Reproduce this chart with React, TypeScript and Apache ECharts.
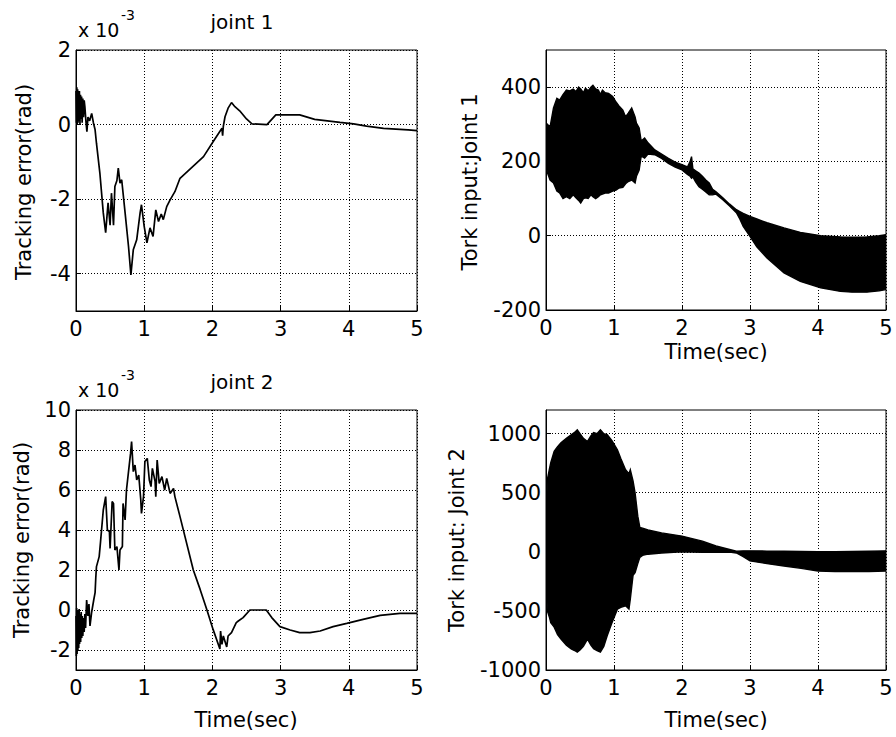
import React, { useEffect, useRef } from 'react';
import * as echarts from 'echarts';

// ---------- tick labels ----------
const timeTicks = [0, 1, 2, 3, 4, 5];
const err1Ticks = [-4, -2, 0, 2];
const tq1Ticks = [-200, 0, 200, 400];
const err2Ticks = [-2, 0, 2, 4, 6, 8, 10];
const tq2Ticks = [-1000, -500, 0, 500, 1000];

// ---------- joint 1 tracking error (x 1e-3 rad) ----------
const err1T = [0, 0.006, 0.012, 0.018, 0.024, 0.03, 0.036, 0.042, 0.05, 0.058, 0.066, 0.074, 0.082, 0.09, 0.1, 0.11, 0.12, 0.13, 0.145, 0.16, 0.175, 0.2, 0.23, 0.255, 0.28, 0.3, 0.35, 0.4, 0.435, 0.47, 0.5, 0.52, 0.55, 0.57, 0.6, 0.62, 0.645, 0.67, 0.72, 0.77, 0.805, 0.84, 0.89, 0.94, 0.96, 1.0, 1.04, 1.085, 1.13, 1.17, 1.21, 1.25, 1.28, 1.33, 1.38, 1.45, 1.525, 1.87, 2.01, 2.14, 2.15, 2.16, 2.185, 2.23, 2.28, 2.33, 2.4, 2.5, 2.58, 2.8, 2.93, 3.28, 3.5, 3.87, 4.07, 4.26, 4.51, 4.87, 5.0];
const err1V = [0.9, 0.05, 1.0, 0.0, 0.95, 0.05, 0.9, 0.1, 0.9, 0.0, 0.8, 0.15, 0.75, 0.05, 0.7, 0.2, 0.65, 0.48, 0.1, -0.19, 0.2, 0.1, 0.3, 0.05, -0.14, -0.5, -1.3, -2.37, -2.9, -2.1, -2.7, -1.84, -2.7, -1.66, -1.5, -1.17, -1.57, -1.48, -2.37, -3.27, -4.03, -3.36, -3.09, -2.37, -2.15, -2.73, -3.17, -2.77, -3.0, -2.29, -2.6, -2.4, -2.55, -2.2, -2.02, -1.8, -1.44, -0.86, -0.46, -0.1, -0.3, -0.05, 0.21, 0.44, 0.59, 0.48, 0.37, 0.15, 0.02, 0.0, 0.26, 0.26, 0.14, 0.06, 0.02, -0.04, -0.1, -0.14, -0.16];

// ---------- joint 2 tracking error (x 1e-3 rad) ----------
const err2T = [0, 0.005, 0.01, 0.016, 0.022, 0.028, 0.034, 0.04, 0.046, 0.052, 0.06, 0.068, 0.076, 0.084, 0.092, 0.1, 0.11, 0.12, 0.13, 0.14, 0.156, 0.175, 0.19, 0.205, 0.23, 0.26, 0.28, 0.29, 0.3, 0.34, 0.36, 0.4, 0.435, 0.46, 0.49, 0.5, 0.53, 0.55, 0.57, 0.6, 0.63, 0.645, 0.68, 0.69, 0.72, 0.74, 0.77, 0.8, 0.815, 0.84, 0.865, 0.89, 0.92, 0.95, 0.96, 0.99, 1.01, 1.045, 1.075, 1.1, 1.12, 1.16, 1.17, 1.19, 1.22, 1.26, 1.3, 1.33, 1.38, 1.43, 1.45, 1.525, 1.72, 1.82, 1.92, 2.01, 2.11, 2.12, 2.14, 2.16, 2.21, 2.23, 2.28, 2.35, 2.38, 2.45, 2.55, 2.79, 2.87, 2.99, 3.14, 3.28, 3.43, 3.58, 3.77, 3.97, 4.21, 4.46, 4.75, 5.0];
const err2V = [-0.3, -2.3, 0.1, -2.2, 0.0, -2.0, -0.1, -1.9, 0.05, -1.7, -0.2, -1.6, -0.1, -1.4, -0.3, -1.3, -0.4, -1.1, -0.2, -0.9, 0.5, -0.3, 0.3, -0.8, -0.1, 0.5, 0.87, 1.6, 2.17, 2.67, 3.42, 5.0, 5.67, 4.0, 3.92, 3.08, 5.42, 5.33, 3.0, 3.17, 2.0, 3.0, 3.17, 5.33, 4.5, 6.0, 6.92, 7.83, 8.42, 6.92, 7.25, 6.5, 6.75, 5.5, 4.83, 5.67, 7.42, 7.58, 6.5, 6.17, 7.08, 6.42, 5.67, 7.5, 6.33, 6.67, 6.0, 6.58, 5.83, 6.08, 5.67, 4.67, 2.0, 1.03, 0.0, -0.97, -1.95, -1.05, -1.72, -1.3, -1.85, -1.3, -1.13, -0.63, -0.55, -0.38, 0.0, 0.0, -0.38, -0.83, -1.0, -1.13, -1.13, -1.05, -0.83, -0.67, -0.47, -0.27, -0.17, -0.17];

// ---------- joint 1 torque input: envelope of the oscillation ----------
const tq1T = [0, 0.02, 0.06, 0.11, 0.16, 0.2, 0.25, 0.3, 0.35, 0.4, 0.44, 0.48, 0.51, 0.55, 0.58, 0.62, 0.66, 0.69, 0.73, 0.77, 0.8, 0.83, 0.87, 0.92, 0.98, 1.03, 1.07, 1.13, 1.17, 1.21, 1.26, 1.31, 1.33, 1.37, 1.4, 1.45, 1.5, 1.6, 1.7, 1.8, 1.9, 2.0, 2.08, 2.12, 2.14, 2.16, 2.2, 2.25, 2.3, 2.35, 2.4, 2.45, 2.5, 2.6, 2.7, 2.8, 2.85, 2.9, 3.0, 3.1, 3.25, 3.5, 3.74, 4.04, 4.33, 4.5, 4.72, 4.9, 5.0];
const tq1Lo = [200, 170, 150, 142, 120, 115, 100, 105, 100, 110, 102, 95, 88, 100, 102, 100, 110, 105, 100, 105, 110, 112, 115, 115, 120, 123, 128, 130, 140, 146, 150, 142, 160, 177, 215, 209, 220, 218, 208, 195, 185, 177, 165, 160, 155, 158, 145, 132, 125, 118, 110, 110, 112, 97, 80, 62, 45, 25, -2, -30, -60, -100, -123, -140, -150, -152, -152, -148, -145];
const tq1Hi = [270, 300, 293, 344, 370, 365, 380, 392, 390, 395, 388, 400, 395, 385, 397, 390, 400, 405, 395, 392, 380, 392, 385, 383, 375, 360, 350, 338, 320, 330, 344, 320, 303, 290, 255, 263, 250, 231, 220, 208, 198, 191, 185, 200, 213, 180, 175, 169, 160, 150, 142, 125, 118, 102, 85, 70, 65, 60, 52, 45, 35, 21, 9, 0, -3, -4, -3, 0, 3];

// ---------- joint 2 torque input: envelope of the oscillation ----------
const tq2T = [0, 0.01, 0.02, 0.05, 0.07, 0.12, 0.17, 0.22, 0.3, 0.37, 0.42, 0.46, 0.5, 0.55, 0.61, 0.66, 0.7, 0.75, 0.8, 0.85, 0.9, 0.97, 1.05, 1.1, 1.17, 1.22, 1.24, 1.28, 1.31, 1.35, 1.38, 1.42, 1.5, 1.7, 2.0, 2.3, 2.5, 2.7, 2.8, 2.9, 3.0, 3.25, 3.5, 3.75, 4.0, 4.25, 4.5, 4.75, 5.0];
const tq2Lo = [-50, -350, -500, -553, -600, -637, -700, -738, -790, -822, -835, -848, -830, -800, -738, -790, -820, -835, -848, -800, -710, -600, -485, -470, -457, -485, -400, -200, -176, -100, -47, -30, -20, -10, 0, -5, -5, -3, -10, -40, -77, -100, -120, -140, -162, -166, -168, -166, -162];
const tq2Hi = [250, 400, 611, 700, 754, 850, 890, 923, 960, 991, 1010, 1033, 1000, 960, 934, 980, 1010, 1000, 1033, 1000, 991, 940, 864, 790, 695, 660, 695, 600, 500, 302, 206, 200, 185, 160, 133, 90, 49, 20, 5, 8, 8, 6, 5, 3, 0, 2, 3, 5, 8];

const FONT = 'DejaVu Sans';
const BLACK = '#000';

const grids = [
  { left: 76, top: 50, width: 341, height: 261 },
  { left: 546, top: 50, width: 340, height: 260 },
  { left: 76, top: 410, width: 341, height: 260 },
  { left: 546, top: 410, width: 340, height: 260 },
];

const plain = (v: number) => String(v);

function xAxis(gridIndex: number) {
  return {
    type: 'value', gridIndex, min: 0, max: 5,
    axisLine: { show: true, onZero: false, lineStyle: { color: BLACK, width: 1 } },
    axisTick: { show: true, inside: true, length: 5, customValues: timeTicks, lineStyle: { color: BLACK } },
    axisLabel: { customValues: timeTicks, formatter: plain, color: BLACK, fontSize: 21, fontFamily: FONT, margin: 7 },
    splitLine: { show: true, lineStyle: { color: BLACK, width: 1, type: [1, 2] } },
  };
}

function yAxis(gridIndex: number, min: number, max: number, ticks: number[]) {
  return {
    type: 'value', gridIndex, min, max,
    axisLine: { show: true, onZero: false, lineStyle: { color: BLACK, width: 1 } },
    axisTick: { show: true, inside: true, length: 5, customValues: ticks, lineStyle: { color: BLACK } },
    axisLabel: { customValues: ticks, formatter: plain, color: BLACK, fontSize: 21, fontFamily: FONT, margin: 5 },
    splitLine: { show: true, lineStyle: { color: BLACK, width: 1, type: [1, 2] } },
  };
}

function lineSeries(idx: number, t: number[], v: number[]) {
  return {
    type: 'line', xAxisIndex: idx, yAxisIndex: idx,
    data: t.map((x, i) => [x, v[i]]),
    symbol: 'none', showSymbol: false, clip: true,
    lineStyle: { color: BLACK, width: 1.7 },
    z: 5,
  };
}

function bandSeries(idx: number, t: number[], lo: number[], hi: number[]) {
  return {
    type: 'custom', xAxisIndex: idx, yAxisIndex: idx, clip: true,
    data: t.map((x, i) => [x, lo[i], hi[i]]),
    encode: { x: 0, y: [1, 2] },
    z: 5,
    renderItem: (params: any, api: any) => {
      if (params.dataIndex !== 0) return null;
      const pts: number[][] = [];
      for (let i = 0; i < t.length; i++) pts.push(api.coord([t[i], hi[i]]));
      for (let i = t.length - 1; i >= 0; i--) pts.push(api.coord([t[i], lo[i]]));
      return {
        type: 'polygon',
        shape: { points: pts },
        style: { fill: BLACK, stroke: BLACK, lineWidth: 1.4 },
      };
    },
  };
}

function txt(text: string, x: number, y: number, size: number, rot = 0, align = 'center') {
  return {
    type: 'text', x, y, rotation: rot, z: 10,
    style: { text, fill: BLACK, fontSize: size, fontFamily: FONT, align, verticalAlign: 'middle' },
  };
}

export default function App() {
  const ref = useRef<HTMLDivElement>(null);
  useEffect(() => {
    if (!ref.current) return;
    const chart = echarts.init(ref.current, undefined, { renderer: 'svg' });
    const R = Math.PI / 2;
    chart.setOption({
      animation: false,
      backgroundColor: '#fff',
      grid: grids.map((g) => ({ ...g, show: true, borderColor: BLACK, borderWidth: 1, backgroundColor: 'transparent', containLabel: false })),
      xAxis: [xAxis(0), xAxis(1), xAxis(2), xAxis(3)],
      yAxis: [
        yAxis(0, -5, 2, err1Ticks),
        yAxis(1, -200, 500, tq1Ticks),
        yAxis(2, -3, 10, err2Ticks),
        yAxis(3, -1000, 1200, tq2Ticks),
      ],
      series: [
        lineSeries(0, err1T, err1V),
        bandSeries(1, tq1T, tq1Lo, tq1Hi),
        lineSeries(2, err2T, err2V),
        bandSeries(3, tq2T, tq2Lo, tq2Hi),
      ],
      graphic: [
        txt('Tracking error(rad)', 24, 182, 21, R),
        txt('Tork input:Joint 1', 470, 182, 21, R),
        txt('Tracking error(rad)', 22, 540, 21, R),
        txt('Tork input: Joint 2', 457, 540, 21, R),
        txt('Time(sec)', 716, 352, 21),
        txt('Time(sec)', 246, 720, 21),
        txt('Time(sec)', 716, 720, 21),
        txt('joint 1', 242, 22, 20),
        txt('joint 2', 242, 382, 20),
        txt('x 10', 78, 30, 19, 0, 'left'),
        txt('-3', 121, 15, 14, 0, 'left'),
        txt('x 10', 78, 390, 19, 0, 'left'),
        txt('-3', 121, 375, 14, 0, 'left'),
      ],
    });
    return () => chart.dispose();
  }, []);
  return <div ref={ref} style={{ position: 'absolute', left: 0, top: 0, width: 896, height: 737 }} />;
}
